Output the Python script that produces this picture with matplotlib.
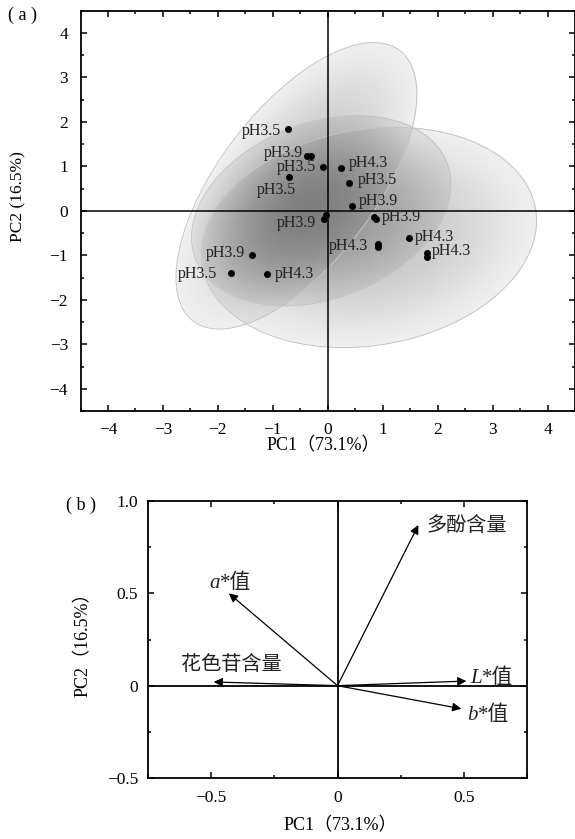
import numpy as np
import matplotlib
matplotlib.use('Agg')
import matplotlib.pyplot as plt
from matplotlib.patches import Ellipse
from matplotlib.ticker import MultipleLocator, FuncFormatter

plt.rcParams['font.family'] = ['Liberation Serif', 'Noto Sans CJK SC']

# (a) sample scores
pc1 = [-0.73, -0.38, -0.30, -0.08, 0.24, -0.70, 0.39, 0.44, -0.04, -0.07,
       0.85, 0.88, 0.91, 0.92, 1.48, 1.80, 1.81, -1.38, -1.76, -1.11]
pc2 = [1.83, 1.22, 1.22, 0.99, 0.97, 0.75, 0.63, 0.10, -0.10, -0.19,
       -0.13, -0.18, -0.75, -0.82, -0.62, -0.96, -1.03, -0.99, -1.39, -1.43]
point_labels = ['pH3.5', 'pH3.9', '', 'pH3.5', 'pH4.3', 'pH3.5', 'pH3.5', 'pH3.9', '', 'pH3.9',
                'pH3.9', '', 'pH4.3', '', 'pH4.3', 'pH4.3', '', 'pH3.9', 'pH3.5', 'pH4.3']

# confidence ellipses per pH group (centre, semi-axes, angle in data units)
groups = ['pH3.5', 'pH3.9', 'pH4.3']
ell_cx = [-0.57, -0.12, 0.75]
ell_cy = [0.56, 0.0, -0.6]
ell_a = [3.59, 2.56, 3.11]
ell_b = [1.51, 1.89, 2.40]
ell_angle = [60.8, 35.2, 17.9]

# (b) loadings
variables = ['多酚含量', 'a*值', '花色苷含量', 'L*值', 'b*值']
load_pc1 = [0.32, -0.43, -0.49, 0.51, 0.49]
load_pc2 = [0.87, 0.50, 0.02, 0.025, -0.125]

# label placement (offset points, alignment)
lab_pos = {
    0: (-5, -1, 'right'), 1: (-3, 2.5, 'right'), 3: (-5, -0.5, 'right'), 4: (6, 3, 'left'),
    5: (-9, -9, 'center'), 6: (6, 2, 'left'), 7: (5, 4, 'left'), 9: (-6, -3, 'right'),
    10: (5, 0, 'left'), 12: (-7, -1, 'right'), 14: (4, 1, 'left'), 15: (4, 2, 'left'),
    17: (-5, 1, 'right'), 18: (-10, -1, 'right'), 19: (6, 0, 'left'),
}
var_pos = [(6, 0), (-14, 3.5), (13, 12.5), (3, -1.5), (4.3, -8)]

W, H = 575, 839
fig = plt.figure(figsize=(W / 100, H / 100), dpi=100)


def style_axes(ax, major, minor):
    for s in ax.spines.values():
        s.set_linewidth(1.3)
    ax.xaxis.set_major_locator(MultipleLocator(major))
    ax.xaxis.set_minor_locator(MultipleLocator(minor))
    ax.yaxis.set_major_locator(MultipleLocator(major))
    ax.yaxis.set_minor_locator(MultipleLocator(minor))
    ax.tick_params(which='both', direction='in', top=True, right=True, width=1.1, labelsize=12.5)
    ax.tick_params(which='major', length=4.5)
    ax.tick_params(which='minor', length=2.5)


# ---------- panel (a) ----------
ax = fig.add_axes([80.5 / W, 1 - 411 / H, (575 - 80.5) / W, (411 - 10.5) / H])
ax.set_xlim(-4.5, 4.5)
ax.set_ylim(-4.5, 4.5)
style_axes(ax, 1, 0.5)
ax.tick_params(axis='x', pad=8)
ax.tick_params(axis='y', pad=9)
ifmt = FuncFormatter(lambda v, p: f'{v:.0f}'.replace('-', '\u2212'))
ax.xaxis.set_major_formatter(ifmt)
ax.yaxis.set_major_formatter(ifmt)

# gradient-filled ellipses
gx, gy = np.meshgrid(np.linspace(-4.5, 4.5, 700), np.linspace(-4.5, 4.5, 700))
trans = np.ones_like(gx)
for cx, cy, a, b, ang in zip(ell_cx, ell_cy, ell_a, ell_b, ell_angle):
    t = np.deg2rad(ang)
    dx, dy = gx - cx, gy - cy
    u = dx * np.cos(t) + dy * np.sin(t)
    v = -dx * np.sin(t) + dy * np.cos(t)
    r2 = (u / a) ** 2 + (v / b) ** 2
    alpha = np.where(r2 <= 1, 0.065 + 0.17 * np.clip(1 - r2, 0, 1) ** 1.4, 0)
    trans *= 1 - alpha
img = np.zeros(gx.shape + (4,))
img[..., 3] = 1 - trans
ax.imshow(img, extent=[-4.5, 4.5, -4.5, 4.5], origin='lower', aspect='auto',
          interpolation='bilinear', zorder=1)
for cx, cy, a, b, ang in zip(ell_cx, ell_cy, ell_a, ell_b, ell_angle):
    ax.add_patch(Ellipse((cx, cy), 2 * a, 2 * b, angle=ang, fill=False,
                         edgecolor='#c4c4c4', lw=0.7, zorder=2))

ax.axhline(0, color='black', lw=1.1, zorder=3)
ax.axvline(0, color='black', lw=1.1, zorder=3)
ax.plot(pc1, pc2, 'o', color='black', ms=4, zorder=4)
for i, lab in enumerate(point_labels):
    if lab:
        ox, oy, ha = lab_pos[i]
        ax.annotate(lab, (pc1[i], pc2[i]), xytext=(ox, oy), textcoords='offset points',
                    ha=ha, va='center', fontsize=11.5, color='#222222', zorder=5)

fig.text(22 / W, 1 - 15 / H, '( a )', ha='center', va='center', fontsize=13)
fig.text(323 / W, 1 - 446 / H, 'PC1（73.1%）', ha='center', va='center', fontsize=13)
fig.text(18 / W, 1 - 197 / H, 'PC2 (16.5%)', ha='center', va='center', fontsize=12.5, rotation=90)

# ---------- panel (b) ----------
bx = fig.add_axes([148 / W, 1 - 778 / H, (527 - 148) / W, (778 - 501) / H])
bx.set_xlim(-0.75, 0.75)
bx.set_ylim(-0.5, 1.0)
style_axes(bx, 0.5, 0.25)
bx.tick_params(axis='x', pad=9)
bx.tick_params(axis='y', pad=7)
fmt = FuncFormatter(lambda v, p: '0' if abs(v) < 1e-9 else f'{v:.1f}'.replace('-', '\u2212'))
bx.xaxis.set_major_formatter(fmt)
bx.yaxis.set_major_formatter(fmt)
bx.axhline(0, color='black', lw=1.3, zorder=1)
bx.axvline(0, color='black', lw=1.3, zorder=1)

for i, name in enumerate(variables):
    tip = (load_pc1[i], load_pc2[i])
    bx.annotate('', xy=tip, xytext=(0, 0),
                arrowprops=dict(arrowstyle='-|>', color='black', lw=0.9,
                                mutation_scale=13, shrinkA=0, shrinkB=0), zorder=3)
    ox, oy = var_pos[i]
    if '*' in name:
        # italic colour-space letter followed by "*值"
        t1 = bx.annotate(name[0], tip, xytext=(ox, oy), textcoords='offset points',
                         ha='left', va='baseline', fontsize=15, style='italic',
                         family='Liberation Serif', color='#222222')
        bx.annotate(name[1:], xy=(1, 0), xycoords=t1, ha='left', va='bottom',
                    fontsize=15, color='#222222')
    else:
        bx.annotate(name, tip, xytext=(ox, oy), textcoords='offset points',
                    ha='left' if i == 0 else 'center', va='center', fontsize=14.5,
                    family='Noto Sans CJK SC', color='#222222')

fig.text(81 / W, 1 - 505 / H, '( b )', ha='center', va='center', fontsize=13)
fig.text(340 / W, 1 - 826 / H, 'PC1（73.1%）', ha='center', va='center', fontsize=13)
fig.text(83 / W, 1 - 640 / H, 'PC2（16.5%）', ha='center', va='center', fontsize=13, rotation=90)

fig.savefig('out.png', dpi=100)
